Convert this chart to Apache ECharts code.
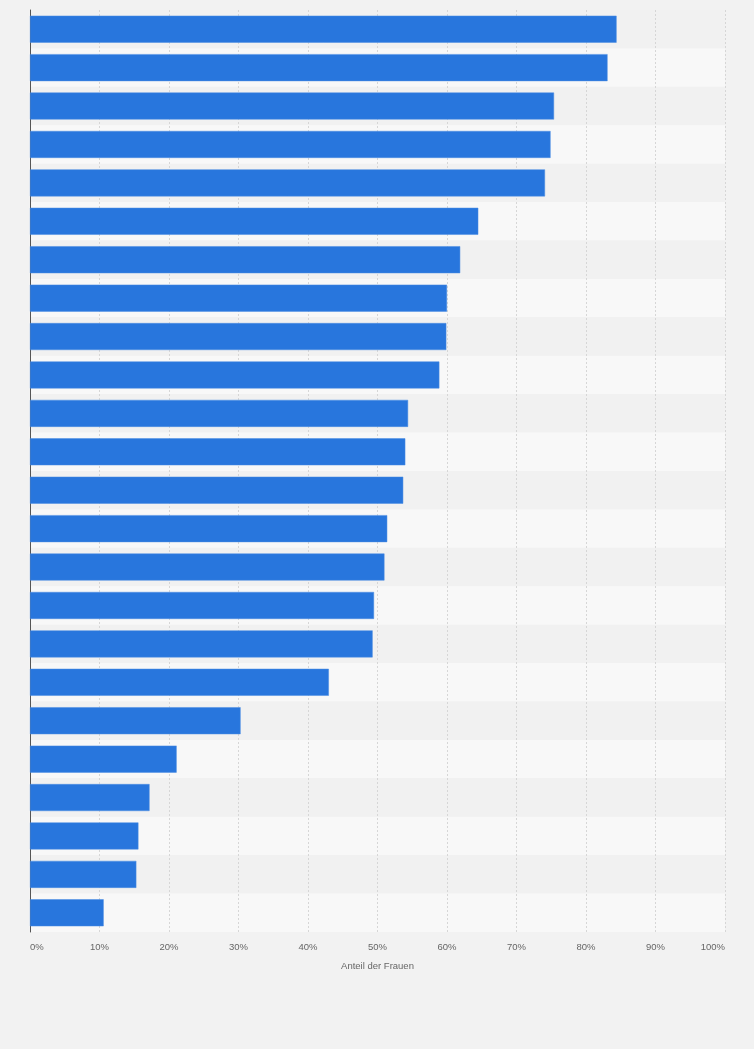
<!DOCTYPE html>
<html>
<head>
<meta charset="utf-8">
<script src="https://cdn.jsdelivr.net/npm/echarts@6/dist/echarts.min.js"></script>
<style>
html,body{margin:0;padding:0;background:#f2f2f2;}
#chart{width:754px;height:1049px;}
</style>
</head>
<body>
<div id="chart"></div>
<script>
const categories = ['1','2','3','4','5','6','7','8','9','10','11','12','13','14','15','16','17','18','19','20','21','22','23','24'];
const values = [84.4, 83.1, 75.4, 74.9, 74.1, 64.5, 61.9, 60.0, 59.9, 58.9, 54.4, 54.0, 53.7, 51.4, 51.0, 49.5, 49.3, 43.0, 30.3, 21.1, 17.2, 15.6, 15.3, 10.6];
const axisName = 'Anteil der Frauen';

const chart = echarts.init(document.getElementById('chart'));
chart.setOption({
  backgroundColor: '#f2f2f2',
  animation: false,
  grid: { left: 30, right: 29, top: 10, bottom: 117, containLabel: false },
  xAxis: {
    type: 'value', min: 0, max: 100, interval: 10,
    name: axisName, nameLocation: 'middle', nameGap: 29,
    nameTextStyle: { color: '#666', fontSize: 9.5, fontFamily: 'Liberation Sans, Arial, sans-serif' },
    axisLine: { show: false }, axisTick: { show: false },
    axisLabel: { formatter: '{value}%', color: '#666', fontSize: 9.5, margin: 10,
      fontFamily: 'Liberation Sans, Arial, sans-serif', alignMinLabel: 'left', alignMaxLabel: 'right' },
    splitLine: { show: true, lineStyle: { color: '#d6d6d6', type: [2, 2], width: 1 } }
  },
  yAxis: {
    type: 'category', data: categories, inverse: true,
    axisLabel: { show: false }, axisTick: { show: false },
    axisLine: { show: true, lineStyle: { color: '#555', width: 1 } },
    splitArea: { show: true, areaStyle: { color: ['#f1f1f1', '#f8f8f8'] } }
  },
  series: [{
    type: 'bar', data: values, barWidth: 27,
    itemStyle: { color: '#2876dd', borderColor: '#4a8ce3', borderWidth: 0.5 }
  }]
});
</script>
</body>
</html>
